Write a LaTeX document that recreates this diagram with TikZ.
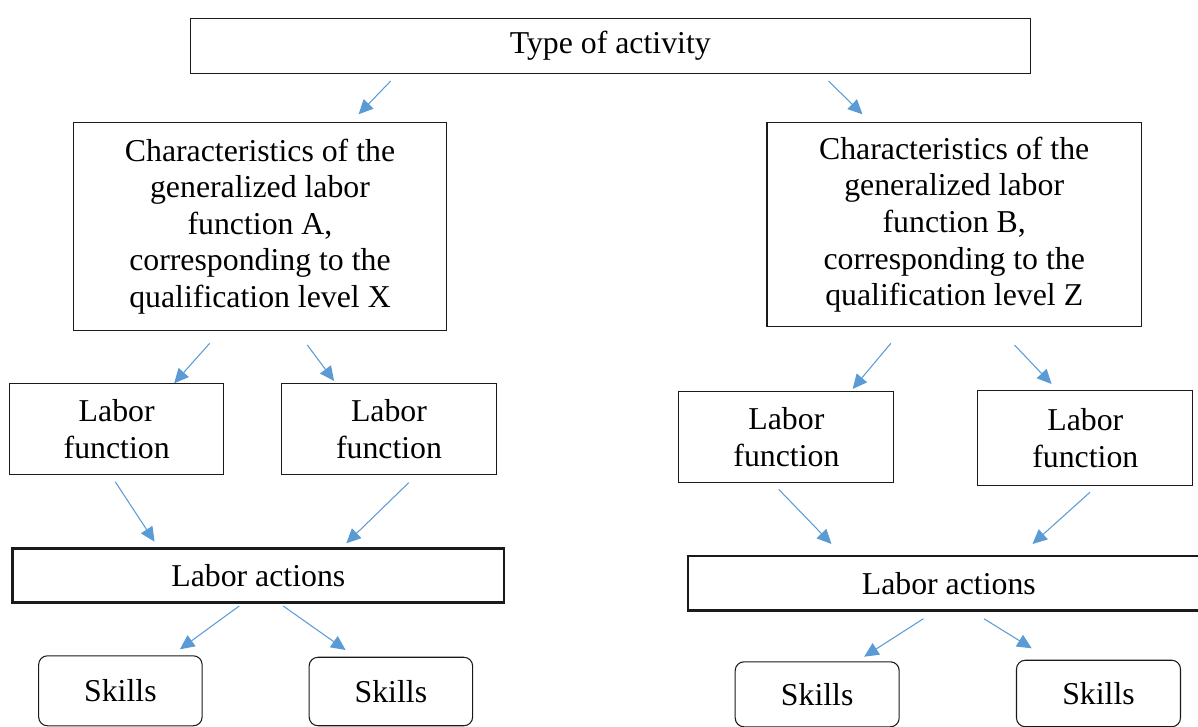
\documentclass[tikz,border=0pt]{standalone}
\usepackage{fontspec}
\setmainfont{Liberation Serif}
\usepackage{tikz}
\usetikzlibrary{arrows.meta}
\definecolor{bxink}{HTML}{1A1A1A}
\definecolor{arblue}{HTML}{5B9BD5}

\begin{document}
\begin{tikzpicture}[x=0.02cm,y=-0.02cm,
  font=\fontsize{18.1}{20.8}\selectfont,
  box/.style={draw=bxink,line width=0.6pt,inner sep=0pt,align=center},
  actbox/.style={box,line width=1.5pt},
  skillbox/.style={box,rounded corners=5pt},
  link/.style={arblue,line width=0.6pt,-{Triangle[length=2.9mm,width=2.7mm]}}]
\useasboundingbox (0,0) rectangle (1198,727);
% top level
\node[box,minimum width=16.8cm,minimum height=1.11cm] (top) at (610.3,46.2)
  {Type of activity};
% generalized labor functions
\node[box,minimum width=7.46cm,minimum height=4.17cm] (charA) at (260,226.5)
  {Characteristics of the\\generalized labor\\function A,\\corresponding to the\\qualification level X};
\node[box,minimum width=7.49cm,minimum height=4.09cm] (charB) at (954.2,224.7)
  {Characteristics of the\\generalized labor\\function B,\\corresponding to the\\qualification level Z};
% labor functions
\node[box,minimum width=4.29cm,minimum height=1.83cm] (funA1) at (116.7,429) {Labor\\function};
\node[box,minimum width=4.29cm,minimum height=1.83cm] (funA2) at (389,429) {Labor\\function};
\node[box,minimum width=4.30cm,minimum height=1.83cm] (funB1) at (786.4,437) {Labor\\function};
\node[box,minimum width=4.30cm,minimum height=1.91cm] (funB2) at (1085.3,437.9) {Labor\\function};
% labor actions
\node[actbox,minimum width=9.83cm,minimum height=1.09cm] (actA) at (258.3,575.5) {Labor actions};
\node[actbox,minimum width=10.43cm,minimum height=1.09cm] (actB) at (948.8,583.4) {Labor actions};
% skills
\node[skillbox,minimum width=3.27cm,minimum height=1.40cm] (skA1) at (120.4,690.8) {Skills};
\node[skillbox,minimum width=3.27cm,minimum height=1.37cm] (skA2) at (390.9,691.5) {Skills};
\node[skillbox,minimum width=3.28cm,minimum height=1.30cm] (skB1) at (817.2,694.3) {Skills};
\node[skillbox,minimum width=3.28cm,minimum height=1.33cm] (skB2) at (1098.5,693.5) {Skills};
% arrow ends
\foreach \n/\x/\y in {
  s1/390.7/81,   e1/358.6/114.3, s2/828.5/81,    e2/862.5/114.3,
  s3/209.7/343.3, e3/174.1/383.3, s4/307.3/345,  e4/334.1/381,
  s5/115.2/481.7, e5/154.6/541.7, s6/408.7/482.7, e6/346.3/543.3,
  s7/239.2/606,  e7/179.9/649.3, s8/283.2/606,   e8/345.6/650,
  s9/890.9/343.3, e9/852.6/389,  s10/1014.5/345, e10/1051.6/384,
  s11/778.7/489.3, e11/831.5/544, s12/1089.9/492.3, e12/1032.5/544,
  s13/923.4/618.7, e13/864.1/656.7, s14/983.9/618.7, e14/1031.7/648.3
} \coordinate (\n) at (\x,\y);
\foreach \i in {1,...,14} \draw[link] (s\i) -- (e\i);
\end{tikzpicture}
\end{document}
